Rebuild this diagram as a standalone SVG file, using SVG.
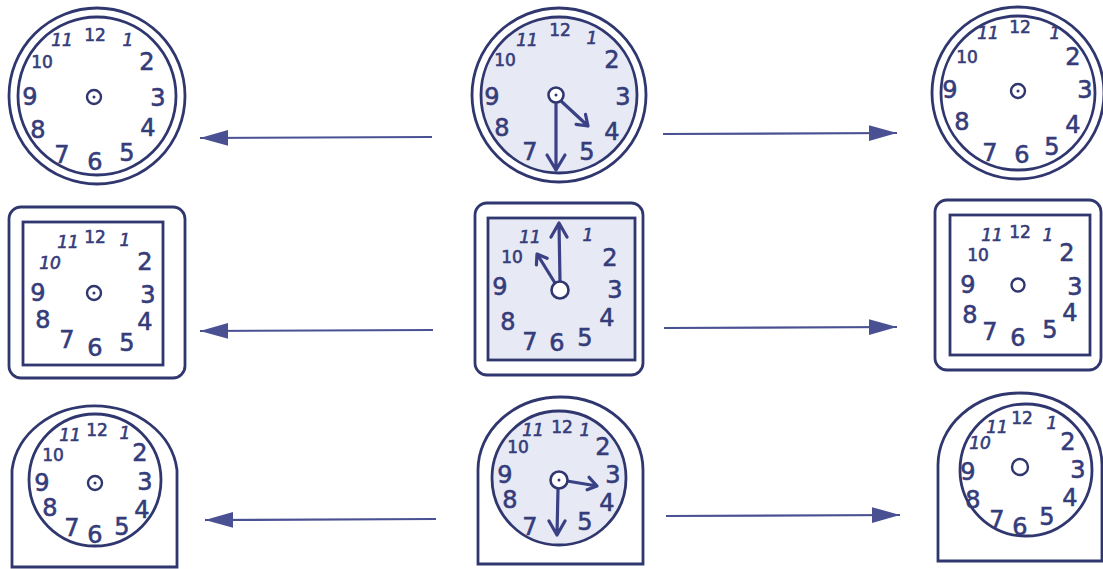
<svg xmlns="http://www.w3.org/2000/svg" width="1103" height="569" viewBox="0 0 1103 569">
<defs>
<marker id="ah" markerUnits="userSpaceOnUse" markerWidth="30" markerHeight="18" refX="28" refY="8" orient="auto">
<path d="M0,0 L28,8 L0,16 Z" fill="#4a5193"/>
</marker>
</defs>
<style>
.o{fill:none;stroke:#30376f;stroke-width:2.8}
.f{fill:#e7e9f5;stroke:#30376f;stroke-width:2.8}
.w{fill:#fff;stroke:#30376f;stroke-width:2.6}
.c{fill:none;stroke:#30376f;stroke-width:2.4}
.dot{fill:#30376f}
.h{fill:none;stroke:#3a4185;stroke-width:3.2;stroke-linecap:round;stroke-linejoin:round}
.ln{stroke:#4a5193;stroke-width:2.2;fill:none}
text{font-family:"DejaVu Sans","Liberation Sans",sans-serif;fill:#353c7a;text-anchor:middle;dominant-baseline:central;stroke:#353c7a;stroke-width:0.6}
.d{font-size:24px}
.s{font-size:17px}
.i{font-size:17px;font-style:italic}
</style>
<rect width="1103" height="569" fill="#fff"/>

<g id="clock-top-left">
<circle class="o" cx="97" cy="96" r="88"/>
<circle class="o" cx="97" cy="96" r="79"/>
<circle class="c" cx="94" cy="97" r="7"/>
<circle class="dot" cx="94" cy="97" r="1.5"/>
<text class="s" x="95" y="35">12</text><text class="i" x="62" y="40">11</text><text class="i" x="128" y="40">1</text>
<text class="s" x="42" y="62">10</text><text class="d" x="147" y="62">2</text><text class="d" x="30" y="97">9</text>
<text class="d" x="158" y="98">3</text><text class="d" x="38" y="130">8</text><text class="d" x="148" y="128">4</text>
<text class="d" x="62" y="155">7</text><text class="d" x="95" y="162">6</text><text class="d" x="127" y="153">5</text>
</g>

<g id="clock-top-middle">
<circle class="o" cx="559" cy="95" r="87"/>
<circle class="f" cx="559" cy="95" r="78"/>
<text class="s" x="560" y="30">12</text><text class="i" x="527" y="40">11</text><text class="i" x="592" y="38">1</text>
<text class="s" x="505" y="60">10</text><text class="d" x="612" y="60">2</text><text class="d" x="492" y="97">9</text>
<text class="d" x="623" y="97">3</text><text class="d" x="502" y="128">8</text><text class="d" x="612" y="132">4</text>
<text class="d" x="530" y="152">7</text><text class="d" x="587" y="152">5</text>
<path class="h" d="M556,103 V170 M547,155 L556,170 L565,155"/>
<path class="h" d="M561,101 L588,126 M585.5,114.3 L588,126 L576.1,124.3"/>
<circle class="w" cx="556" cy="95" r="7.5"/>
<circle class="dot" cx="556" cy="95" r="1.5"/>
</g>

<g id="clock-top-right">
<circle class="o" cx="1018" cy="93" r="86"/>
<circle class="o" cx="1018" cy="93" r="77"/>
<circle class="c" cx="1018" cy="91" r="7"/>
<circle class="dot" cx="1018" cy="91" r="1.5"/>
<text class="s" x="1020" y="27">12</text><text class="i" x="988" y="33">11</text><text class="i" x="1055" y="33">1</text>
<text class="s" x="967" y="57">10</text><text class="d" x="1073" y="57">2</text><text class="d" x="950" y="90">9</text>
<text class="d" x="1085" y="90">3</text><text class="d" x="962" y="122">8</text><text class="d" x="1073" y="125">4</text>
<text class="d" x="990" y="153">7</text><text class="d" x="1022" y="155">6</text><text class="d" x="1052" y="147">5</text>
</g>

<g id="clock-middle-left">
<rect class="o" x="9" y="207" width="176" height="171" rx="12"/>
<rect class="o" x="23" y="222" width="140" height="143"/>
<circle class="c" cx="94" cy="293" r="7"/>
<circle class="dot" cx="94" cy="293" r="1.5"/>
<text class="s" x="95" y="237">12</text><text class="i" x="68" y="242">11</text><text class="i" x="125" y="240">1</text>
<text class="i" x="50" y="263">10</text><text class="d" x="145" y="262">2</text><text class="d" x="38" y="293">9</text>
<text class="d" x="148" y="295">3</text><text class="d" x="43" y="320">8</text><text class="d" x="145" y="322">4</text>
<text class="d" x="67" y="340">7</text><text class="d" x="95" y="348">6</text><text class="d" x="127" y="343">5</text>
</g>

<g id="clock-middle-middle">
<rect class="o" x="475" y="203" width="168" height="172" rx="12"/>
<rect class="f" x="488" y="218" width="147" height="142"/>
<text class="i" x="530" y="237">11</text><text class="i" x="588" y="235">1</text>
<text class="s" x="512" y="257">10</text><text class="d" x="610" y="258">2</text><text class="d" x="500" y="287">9</text>
<text class="d" x="615" y="290">3</text><text class="d" x="508" y="322">8</text><text class="d" x="607" y="318">4</text>
<text class="d" x="530" y="342">7</text><text class="d" x="557" y="343">6</text><text class="d" x="585" y="338">5</text>
<path class="h" d="M560,281 L559,223 M551,237 L559,223 L567,237"/>
<path class="h" d="M555,283 L537,254 M536.4,265 L537,254 L547.1,258.3"/>
<circle class="w" cx="560" cy="290" r="8.5"/>
</g>

<g id="clock-middle-right">
<rect class="o" x="935" y="200" width="166" height="170" rx="12"/>
<rect class="o" x="950" y="215" width="140" height="140"/>
<circle class="c" cx="1018" cy="285" r="6.5"/>
<text class="s" x="1020" y="232">12</text><text class="i" x="992" y="235">11</text><text class="i" x="1048" y="235">1</text>
<text class="s" x="978" y="255">10</text><text class="d" x="1067" y="253">2</text><text class="d" x="968" y="285">9</text>
<text class="d" x="1075" y="287">3</text><text class="d" x="970" y="315">8</text><text class="d" x="1070" y="313">4</text>
<text class="d" x="990" y="332">7</text><text class="d" x="1018" y="338">6</text><text class="d" x="1050" y="330">5</text>
</g>

<g id="clock-bottom-left">
<path class="o" d="M12,567 V470 A83,72 0 0 1 177,470 V567 Z"/>
<circle class="o" cx="95" cy="480" r="66"/>
<circle class="c" cx="95" cy="483" r="7"/>
<circle class="dot" cx="95" cy="483" r="1.5"/>
<text class="s" x="97" y="430">12</text><text class="i" x="70" y="435">11</text><text class="i" x="125" y="433">1</text>
<text class="s" x="53" y="455">10</text><text class="d" x="140" y="453">2</text><text class="d" x="42" y="483">9</text>
<text class="d" x="145" y="482">3</text><text class="d" x="50" y="508">8</text><text class="d" x="142" y="510">4</text>
<text class="d" x="72" y="528">7</text><text class="d" x="95" y="535">6</text><text class="d" x="122" y="527">5</text>
</g>

<g id="clock-bottom-middle">
<path class="o" d="M478,564 V470 A82.5,73 0 0 1 643,470 V564 Z"/>
<circle class="f" cx="559" cy="478" r="67"/>
<text class="s" x="562" y="427">12</text><text class="i" x="533" y="430">11</text><text class="i" x="585" y="430">1</text>
<text class="s" x="518" y="447">10</text><text class="d" x="603" y="447">2</text><text class="d" x="505" y="475">9</text>
<text class="d" x="613" y="475">3</text><text class="d" x="510" y="500">8</text><text class="d" x="607" y="503">4</text>
<text class="d" x="530" y="527">7</text><text class="d" x="585" y="522">5</text>
<path class="h" d="M558,489 L557,535 M549,521 L557,535 L565,521"/>
<path class="h" d="M567,481 L597,486 M589.1,477.3 L597,486 L587.1,489.8"/>
<circle class="w" cx="559" cy="480" r="8.5"/>
<circle class="dot" cx="559" cy="480" r="1.5"/>
</g>

<g id="clock-bottom-right">
<path class="o" d="M938,561 V465 A82,72 0 0 1 1102,465 V561 Z"/>
<circle class="o" cx="1026" cy="470" r="66"/>
<circle class="c" cx="1020" cy="467" r="8"/>
<text class="s" x="1022" y="418">12</text><text class="i" x="997" y="427">11</text><text class="i" x="1052" y="423">1</text>
<text class="i" x="980" y="443">10</text><text class="d" x="1068" y="442">2</text><text class="d" x="968" y="472">9</text>
<text class="d" x="1078" y="470">3</text><text class="d" x="973" y="500">8</text><text class="d" x="1070" y="498">4</text>
<text class="d" x="997" y="520">7</text><text class="d" x="1020" y="527">6</text><text class="d" x="1047" y="517">5</text>
</g>

<g id="connectors">
<line class="ln" x1="432" y1="137" x2="200" y2="138" marker-end="url(#ah)"/>
<line class="ln" x1="663" y1="134" x2="897" y2="133" marker-end="url(#ah)"/>
<line class="ln" x1="433" y1="330" x2="200" y2="331" marker-end="url(#ah)"/>
<line class="ln" x1="664" y1="328" x2="897" y2="327" marker-end="url(#ah)"/>
<line class="ln" x1="436" y1="519" x2="205" y2="520" marker-end="url(#ah)"/>
<line class="ln" x1="666" y1="516" x2="900" y2="515" marker-end="url(#ah)"/>
</g>
</svg>
